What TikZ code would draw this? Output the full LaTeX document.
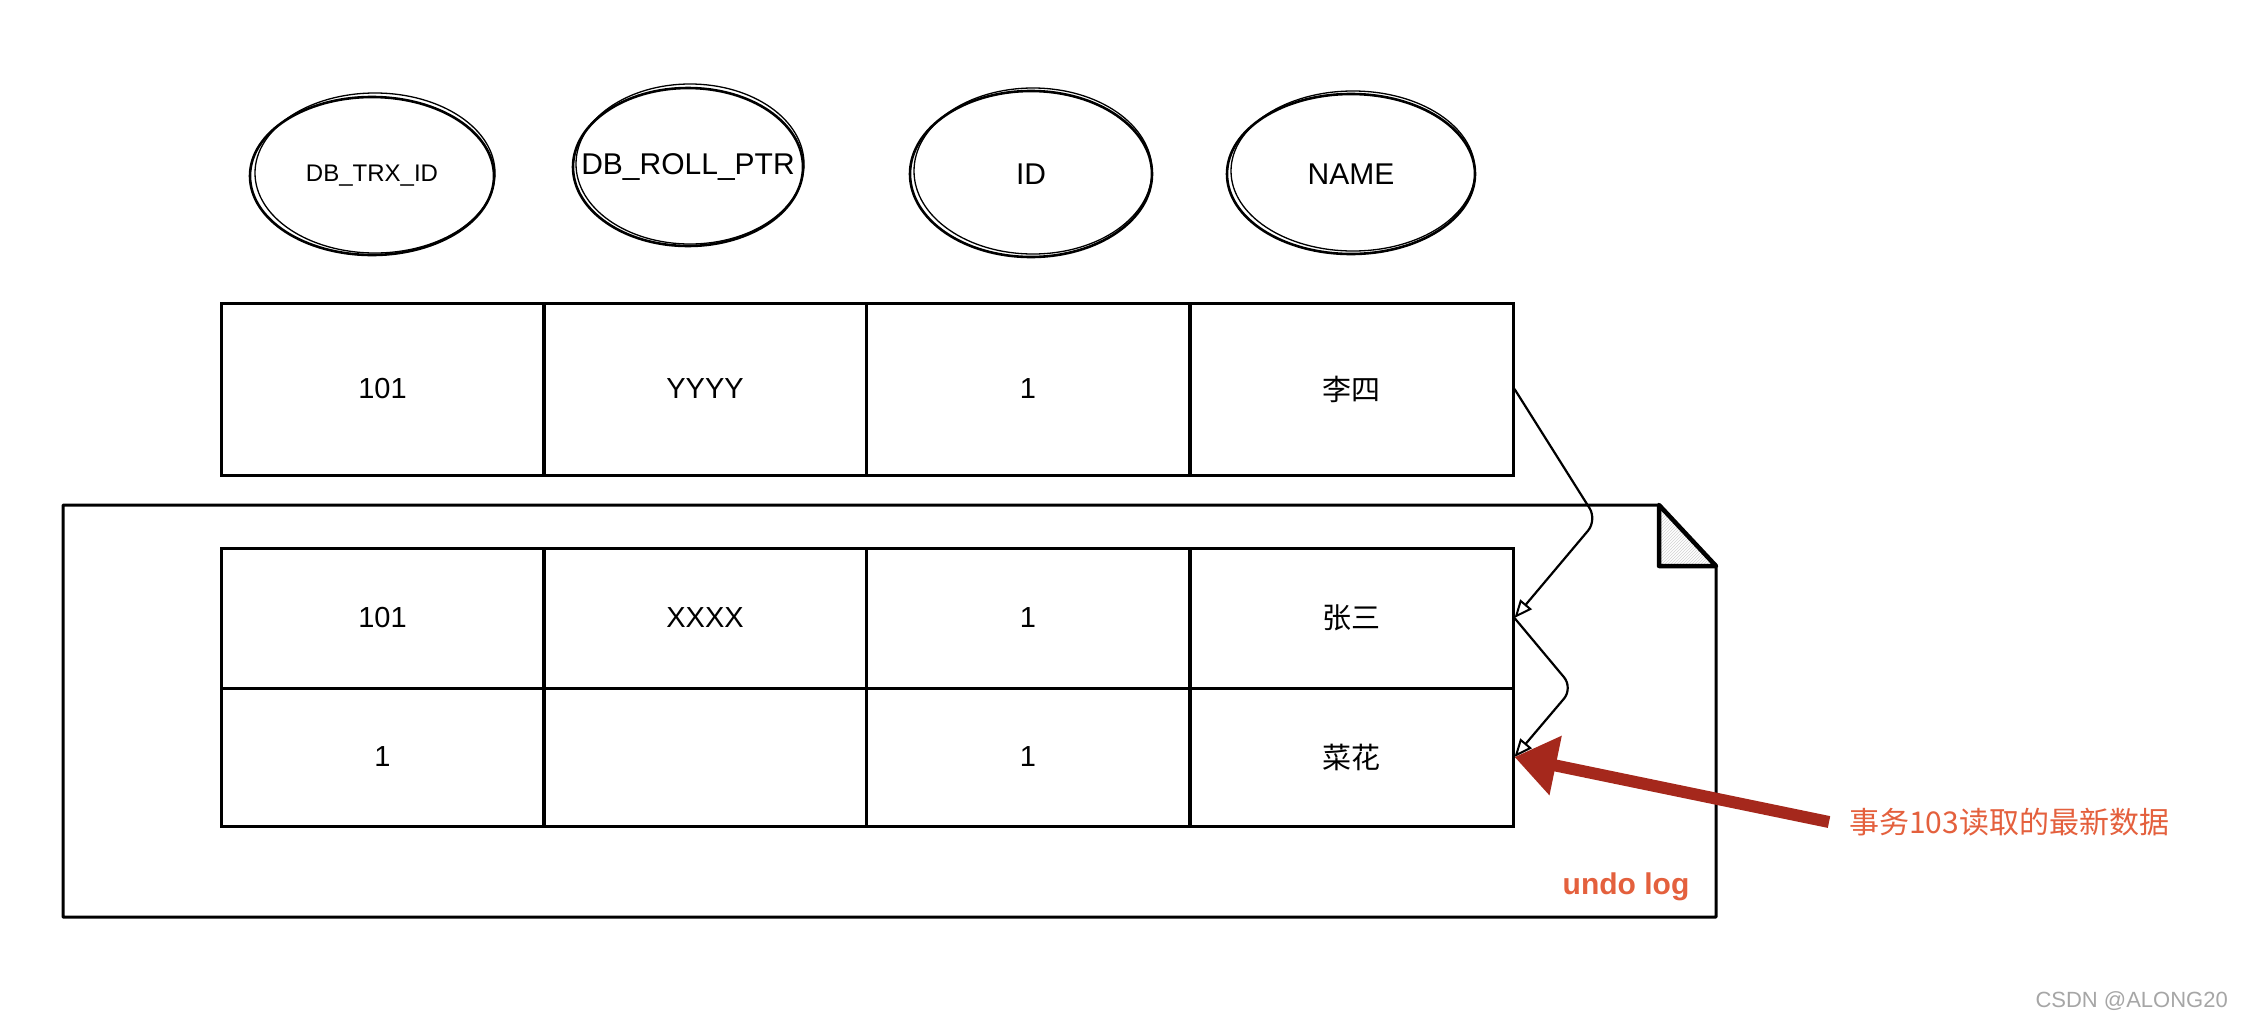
\documentclass[tikz,border=0pt]{standalone}
\usepackage{fontspec}
\setmainfont{Liberation Sans}
\newfontfamily\cjk{Noto Sans CJK SC}
\usetikzlibrary{arrows.meta,shapes.geometric,patterns}
\definecolor{arrred}{HTML}{A5281C}
\definecolor{txtred}{HTML}{E4603D}
\begin{document}
\begin{tikzpicture}[x=1pt,y=-1pt,
  colhead/.style={ellipse,draw,line width=2.6pt,inner sep=0pt,font=\fontsize{30}{36}\selectfont},
  sketch/.style={line width=1.3pt},
  cell/.style={draw,line width=3pt,minimum width=323pt,inner sep=0pt,font=\fontsize{29}{35}\selectfont},
  link/.style={line width=2.2pt,rounded corners=14pt,-{Triangle[open,length=18pt,width=15pt,line width=2pt]}},
  notetext/.style={text=txtred,inner sep=0pt},
]
\useasboundingbox[fill=white] (0,0) rectangle (2242,1020);

% column header ellipses
\node[colhead,minimum width=244pt,minimum height=158pt,font=\fontsize{24}{28}\selectfont] (e1) at (372,176) {\makebox[0pt]{DB\_TRX\_ID}};
\node[colhead,minimum width=230pt,minimum height=158pt] (e2) at (688,167) {\makebox[0pt]{DB\_ROLL\_PTR}};
\node[colhead,minimum width=242pt,minimum height=166pt] (e3) at (1031,174) {\makebox[0pt]{ID}};
\node[colhead,minimum width=248pt,minimum height=160pt] (e4) at (1351,174) {\makebox[0pt]{NAME}};
\draw[sketch] (375,173) ellipse (120pt and 80pt);
\draw[sketch] (690,164) ellipse (114pt and 80pt);
\draw[sketch] (1033,171) ellipse (119pt and 83pt);
\draw[sketch] (1353,171) ellipse (122pt and 80pt);

% undo log document
\fill[pattern=north east lines,pattern color=gray!35] (1659,505) -- (1716,566) -- (1659,566) -- cycle;
\draw[line width=3pt,line join=round] (63,505) -- (1659,505) -- (1716,566) -- (1716,917) -- (63,917) -- cycle;
\draw[line width=4.5pt,line join=round] (1659,505) -- (1716,566) -- (1659,566) -- cycle;

% current row
\node[cell,minimum height=172pt] (t1) at (382.5,389) {101};
\node[cell,minimum height=172pt] (t2) at (705,389) {YYYY};
\node[cell,minimum height=172pt] (t3) at (1028,389) {1};
\node[cell,minimum height=172pt] (t4) at (1351.5,389) {\cjk 李四};

% undo log rows
\node[cell,minimum height=140pt] (b11) at (382.5,618) {101};
\node[cell,minimum height=140pt] (b12) at (705,618) {XXXX};
\node[cell,minimum height=140pt] (b13) at (1028,618) {1};
\node[cell,minimum height=140pt] (b14) at (1351.5,618) {\cjk 张三};
\node[cell,minimum height=138pt] (b21) at (382.5,757) {1};
\node[cell,minimum height=138pt] (b22) at (705,757) {};
\node[cell,minimum height=138pt] (b23) at (1028,757) {1};
\node[cell,minimum height=138pt] (b24) at (1351.5,757) {\cjk 菜花};

% version chain
\draw[link] (t4.east) -- (1597,520) -- (b14.east);
\draw[link] (b14.east) -- (1573,688) -- (b24.east);

% annotations
\node[notetext,font=\cjk\fontsize{30}{36}\selectfont,anchor=west] (note) at (1849,822) {事务103读取的最新数据};
\draw[arrred,line width=12pt,-{Triangle[length=42pt,width=58pt]}] ([xshift=-20pt]note.west) -- (b24.east);
\node[notetext,font=\bfseries\fontsize{30}{36}\selectfont] (undo) at (1626,887) {undo log};
\node[text=gray!70,inner sep=0pt,font=\fontsize{22}{26}\selectfont,anchor=east] (wm) at (2228,1001) {CSDN @ALONG20};
\end{tikzpicture}
\end{document}
